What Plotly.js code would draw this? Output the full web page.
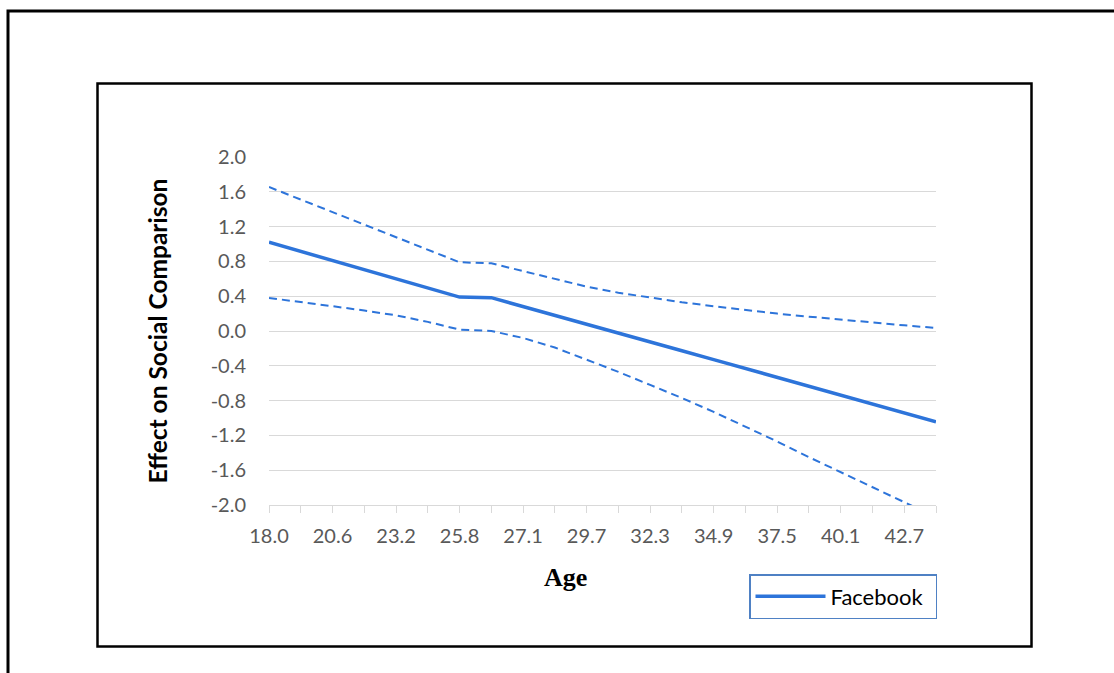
<!DOCTYPE html>
<html><head><meta charset="utf-8">
<script src="https://cdn.plot.ly/plotly-3.0.1.min.js"></script>
<style>html,body{margin:0;padding:0;background:#fff}#chart{width:1114px;height:673px}</style>
</head><body><div id="chart"></div>
<script>
// Age categories (x axis is a category axis; 26.0 is the inserted transition point)
const ageCategories = ['18.0','19.3','20.6','21.9','23.2','24.5','25.8','26.0','27.1','28.4','29.7',
  '31.0','32.3','33.6','34.9','36.2','37.5','38.8','40.1','41.4','42.7','44.0'];
// Effect of Facebook on social comparison
const effect = [1.02,0.915,0.81,0.705,0.60,0.495,0.39,0.383,0.283,0.181,0.079,
  -0.023,-0.125,-0.227,-0.329,-0.431,-0.533,-0.635,-0.737,-0.839,-0.941,-1.043];
// Upper confidence bound
const upperCI = [1.655,1.51,1.37,1.225,1.08,0.935,0.79,0.778,0.69,0.60,0.51,
  0.44,0.385,0.33,0.285,0.24,0.20,0.165,0.13,0.10,0.065,0.035];
// Lower confidence bound
const lowerCI = [0.38,0.335,0.285,0.235,0.18,0.105,0.016,0.0,-0.08,-0.19,-0.33,
  -0.47,-0.62,-0.77,-0.93,-1.10,-1.27,-1.45,-1.62,-1.79,-1.96,-2.14];
// Tick labels shown on the x axis
const xTickLabels = ['18.0','20.6','23.2','25.8','27.1','29.7','32.3','34.9','37.5','40.1','42.7'];
const yTickValues = [2.0,1.6,1.2,0.8,0.4,0.0,-0.4,-0.8,-1.2,-1.6,-2.0];
const yTickLabels = ['2.0','1.6','1.2','0.8','0.4','0.0','-0.4','-0.8','-1.2','-1.6','-2.0'];

const blue = '#2d74da';
const font = 'Lato, "Noto Sans", sans-serif';

const xTickText = ageCategories.map(c => xTickLabels.includes(c) ? c : '');

const traces = [
  {x: ageCategories, y: upperCI, type: 'scatter', mode: 'lines', showlegend: false,
   line: {color: blue, width: 2, dash: '8px,5px'}, hoverinfo: 'skip'},
  {x: ageCategories, y: lowerCI, type: 'scatter', mode: 'lines', showlegend: false,
   line: {color: blue, width: 2, dash: '8px,5px'}, hoverinfo: 'skip'},
  {x: ageCategories, y: effect, type: 'scatter', mode: 'lines', name: 'Facebook',
   line: {color: blue, width: 3.5}, hoverinfo: 'skip'}
];

const L = 269, R = 936, T = 157, B = 505;
const W = R - L, H = B - T;
const px = v => (v - L) / W;
const py = v => (B - v) / H;

const layout = {
  width: 1114, height: 673,
  margin: {l: L, r: 1114 - R, t: T, b: 673 - B, pad: 0},
  paper_bgcolor: '#ffffff', plot_bgcolor: '#ffffff',
  font: {family: font, size: 20, color: '#595959'},
  xaxis: {
    type: 'category', categoryorder: 'array', categoryarray: ageCategories,
    range: [0, ageCategories.length - 1],
    tickmode: 'array', tickvals: ageCategories, ticktext: xTickText,
    ticks: 'outside', ticklen: 7, tickwidth: 1, tickcolor: '#d9d9d9',
    showline: true, linecolor: '#d9d9d9', linewidth: 1,
    showgrid: false, zeroline: false,
    tickfont: {family: font, size: 20, color: '#595959'},
    ticklabelstandoff: 6
  },
  yaxis: {
    range: [-2, 2], tickmode: 'array', tickvals: yTickValues, ticktext: yTickLabels,
    showgrid: true, gridcolor: '#d9d9d9', gridwidth: 1,
    zeroline: false, showline: false, ticks: '',
    tickfont: {family: font, size: 20, color: '#595959'},
    ticklabelstandoff: 22,
    title: {text: 'Effect on Social Comparison', standoff: 36,
      font: {family: font, size: 24.5, color: '#000000', weight: 'bold'}}
  },
  showlegend: true,
  legend: {
    x: px(749), y: py(574), xanchor: 'left', yanchor: 'top',
    orientation: 'h', bordercolor: '#4f81c4', borderwidth: 1.5, bgcolor: '#ffffff',
    itemwidth: 70, entrywidth: 100, entrywidthmode: 'pixels',
    font: {family: font, size: 22, color: '#000000'}
  },
  annotations: [
    {text: 'Age', xref: 'paper', yref: 'paper', x: px(565), y: py(577),
     xanchor: 'center', yanchor: 'middle', showarrow: false,
     font: {family: '"Liberation Serif", "Times New Roman", serif', size: 26, color: '#000000', weight: 'bold'}}
  ],
  shapes: [
    {type: 'rect', xref: 'paper', yref: 'paper', x0: px(8), x1: px(1130), y0: py(11), y1: py(690),
     line: {color: '#000000', width: 3}, layer: 'below'},
    {type: 'rect', xref: 'paper', yref: 'paper', x0: px(97.5), x1: px(1031.5), y0: py(83.5), y1: py(646.5),
     line: {color: '#000000', width: 2.5}, layer: 'below'}
  ]
};

Plotly.newPlot('chart', traces, layout, {displayModeBar: false, staticPlot: true});
</script></body></html>
